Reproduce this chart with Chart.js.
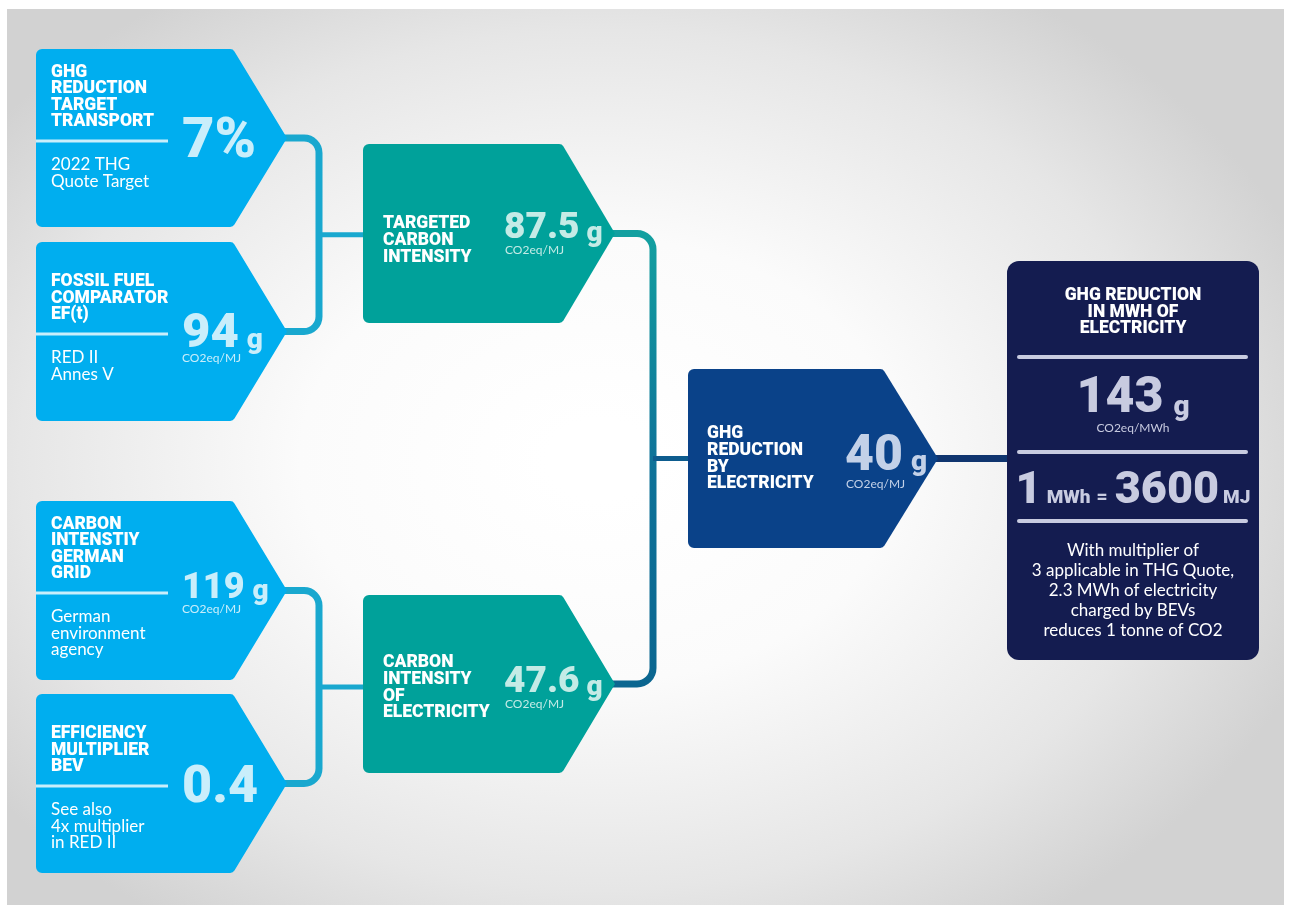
<!DOCTYPE html>
<html>
<head>
<meta charset="utf-8">
<title>GHG reduction by electricity</title>
<script src="https://cdn.jsdelivr.net/npm/chart.js@4.4.1/dist/chart.umd.min.js"></script>
<style>
  html, body { margin: 0; padding: 0; background: #fff; }
  #wrap { width: 1291px; height: 912px; }
</style>
</head>
<body>
<div id="wrap"><canvas id="flow" width="1291" height="912"></canvas></div>
<script>
var inputTitles = [
  ['GHG', 'REDUCTION', 'TARGET', 'TRANSPORT'],
  ['FOSSIL FUEL', 'COMPARATOR', 'EF(t)'],
  ['CARBON', 'INTENSTIY', 'GERMAN', 'GRID'],
  ['EFFICIENCY', 'MULTIPLIER', 'BEV']
];
var inputNotes = [
  ['2022 THG', 'Quote Target'],
  ['RED II', 'Annes V'],
  ['German', 'environment', 'agency'],
  ['See also', '4x multiplier', 'in RED II']
];
var inputValues = ['7%', '94', '119', '0.4'];
var inputUnits = ['', 'g', 'g', ''];
var inputSubUnits = ['', 'CO2eq/MJ', 'CO2eq/MJ', ''];

var midTitles = [
  ['TARGETED', 'CARBON', 'INTENSITY'],
  ['CARBON', 'INTENSITY', 'OF', 'ELECTRICITY']
];
var midValues = ['87.5', '47.6'];
var midUnits = ['g', 'g'];
var midSubUnits = ['CO2eq/MJ', 'CO2eq/MJ'];

var resultTitle = ['GHG', 'REDUCTION', 'BY', 'ELECTRICITY'];
var resultValue = '40';
var resultUnit = 'g';
var resultSubUnit = 'CO2eq/MJ';

var panelTitle = ['GHG REDUCTION', 'IN MWH OF', 'ELECTRICITY'];
var panelValue = '143';
var panelUnit = 'g';
var panelSubUnit = 'CO2eq/MWh';
var conversionParts = ['1', 'MWh', '=', '3600', 'MJ'];
var panelNote = [
  'With multiplier of',
  '3 applicable in THG Quote,',
  '2.3 MWh of electricity',
  'charged by BEVs',
  'reduces 1 tonne of CO2'
];

// layout (pixels in the 1291x912 frame)
var W = 1291, H = 912;
var inputBoxes = [
  { x: 36, y: 49, h: 178, valSize: 56, valDy: 16 },
  { x: 36, y: 242, h: 179, valSize: 49, valDy: 13 },
  { x: 36, y: 501, h: 179, valSize: 36, valDy: 5 },
  { x: 36, y: 694, h: 179, valSize: 52, valDy: 16 }
];
var midBoxes = [
  { x: 363, y: 144, h: 179, titleDy: 84, valDy: 94 },
  { x: 363, y: 595, h: 178, titleDy: 72, valDy: 97 }
];
var resultBox = { x: 688, y: 369, h: 179 };
var panelBox = { x: 1007, y: 261, w: 252, h: 399 };

var colors = {
  input: '#00aeef', inputVal: '#c9eefb',
  mid: '#00a19a', midVal: '#c4ebe6',
  result: '#0a4289', resultVal: '#c3d1e8',
  panel: '#141c50', panelVal: '#c8cbe0',
  linkLeft: '#19a8cf', linkOut: '#10356f'
};

var HEAVY = '900 ';
var HFAM = 'Roboto, "Lato", sans-serif';
var FAM = 'Lato, "Open Sans", sans-serif';

function flowPlugin() {
  return {
    id: 'flow',
    beforeDraw: function(chart) {
      var c = chart.ctx, sx = chart.scales.x, sy = chart.scales.y;
      c.save();
      c.fillStyle = '#ffffff';
      c.fillRect(0, 0, chart.width, chart.height);
      // soft grey vignette
      var x0 = sx.getPixelForValue(7), y0 = sy.getPixelForValue(9);
      var x1 = sx.getPixelForValue(1284), y1 = sy.getPixelForValue(905);
      c.beginPath();
      c.rect(x0, y0, x1 - x0, y1 - y0);
      c.clip();
      c.translate(sx.getPixelForValue(600), sy.getPixelForValue(460));
      c.scale(1.35, 1);
      var g = c.createRadialGradient(0, 0, 40, 0, 0, 560);
      g.addColorStop(0, '#ffffff');
      g.addColorStop(0.35, '#fbfbfb');
      g.addColorStop(0.75, '#e6e6e6');
      g.addColorStop(1, '#d2d2d2');
      c.fillStyle = g;
      c.fillRect(-700, -600, 1400, 1200);
      c.restore();
    },
    afterDraw: function(chart) {
      drawFlow(chart);
    }
  };
}

function drawFlow(chart) {
  var c = chart.ctx, sx = chart.scales.x, sy = chart.scales.y;
  var X = function(v) { return sx.getPixelForValue(v); };
  var Y = function(v) { return sy.getPixelForValue(v); };

  function font(size, weight) {
    return weight + size + 'px ' + (weight === HEAVY ? HFAM : FAM);
  }

  function text(str, x, y, size, weight, color, align) {
    c.font = font(size, weight);
    c.fillStyle = color;
    c.textAlign = align || 'left';
    c.textBaseline = 'alphabetic';
    c.fillText(str, X(x), Y(y));
    return c.measureText(str).width;
  }

  function arrow(b, w, tip, color) {
    var x = X(b.x), y = Y(b.y), r = 6;
    var right = X(b.x + w), end = X(b.x + w + tip);
    var bottom = Y(b.y + b.h), cy = Y(b.y + b.h / 2);
    c.beginPath();
    c.moveTo(x + r, y);
    c.arcTo(right, y, end, cy, 5);
    c.lineTo(end, cy);
    c.arcTo(right, bottom, x, bottom, 5);
    c.arcTo(x, bottom, x, y, r);
    c.arcTo(x, y, right, y, r);
    c.closePath();
    c.fillStyle = color;
    c.fill();
  }

  function bracket(xTip, yTop, yBot, xV, color, width, rad) {
    c.beginPath();
    c.moveTo(X(xTip), Y(yTop));
    c.arcTo(X(xV), Y(yTop), X(xV), Y(yBot), rad);
    c.arcTo(X(xV), Y(yBot), X(xTip), Y(yBot), rad);
    c.lineTo(X(xTip), Y(yBot));
    c.strokeStyle = color;
    c.lineWidth = width;
    c.stroke();
  }

  function hline(xa, xb, y, color, width) {
    c.beginPath();
    c.moveTo(X(xa), Y(y));
    c.lineTo(X(xb), Y(y));
    c.strokeStyle = color;
    c.lineWidth = width;
    c.stroke();
  }

  c.save();
  c.lineCap = 'butt';

  // connectors, under the boxes
  var ctr = function(b) { return b.y + b.h / 2; };
  var i;
  for (i = 0; i < 4; i += 2) {
    var a = ctr(inputBoxes[i]), bb = ctr(inputBoxes[i + 1]);
    bracket(280, a, bb, 319, colors.linkLeft, 7, 15);
    hline(319, 366, (a + bb) / 2, colors.linkLeft, 5);
  }
  var m1 = ctr(midBoxes[0]), m2 = ctr(midBoxes[1]);
  var grad = c.createLinearGradient(0, Y(m1), 0, Y(m2));
  grad.addColorStop(0, '#13a0a0');
  grad.addColorStop(0.5, '#0e7399');
  grad.addColorStop(1, '#0b6690');
  bracket(608, m1, m2, 653, grad, 7, 16);
  hline(653, 690, ctr(resultBox), '#0d5c8e', 5);
  hline(930, 1010, ctr(resultBox), colors.linkOut, 7);

  // input boxes
  inputBoxes.forEach(function(b, k) {
    arrow(b, 197, 54, colors.input);
    var sep = b.y + 92;
    c.fillStyle = colors.inputVal;
    c.fillRect(X(b.x), Y(sep - 1.5), X(b.x + 132) - X(b.x), Y(sep + 1.5) - Y(sep - 1.5));
    var t = inputTitles[k];
    t.forEach(function(line, j) {
      text(line, b.x + 15, sep - 15 - (t.length - 1 - j) * 16.3, 17.5, HEAVY, '#ffffff');
    });
    inputNotes[k].forEach(function(line, j) {
      text(line, b.x + 15, sep + 29 + j * 16.5, 17, '400 ', '#ffffff');
    });
    var vy = sep + b.valDy;
    var vw = text(inputValues[k], b.x + 146, vy, b.valSize, HEAVY, colors.inputVal);
    if (inputUnits[k]) {
      text(inputUnits[k], b.x + 146 + vw + 8, vy + 1, 28, HEAVY, colors.inputVal);
      text(inputSubUnits[k], b.x + 146, vy + 15, 12, '400 ', colors.inputVal);
    }
  });

  // intermediate boxes
  midBoxes.forEach(function(b, k) {
    arrow(b, 199, 53, colors.mid);
    midTitles[k].forEach(function(line, j) {
      text(line, b.x + 20, b.y + b.titleDy + j * 16.8, 17.5, HEAVY, '#ffffff');
    });
    var vy = b.y + b.valDy;
    var vw = text(midValues[k], b.x + 141, vy, 37, HEAVY, colors.midVal);
    text(midUnits[k], b.x + 141 + vw + 7, vy + 3, 28, HEAVY, colors.midVal);
    text(midSubUnits[k], b.x + 142, vy + 16, 12, '400 ', colors.midVal);
  });

  // result box
  arrow(resultBox, 195, 55, colors.result);
  resultTitle.forEach(function(line, j) {
    text(line, resultBox.x + 19, resultBox.y + 69 + j * 16.8, 17.5, HEAVY, '#ffffff');
  });
  var rvy = resultBox.y + 101;
  var rvw = text(resultValue, resultBox.x + 157, rvy, 50, HEAVY, colors.resultVal);
  text(resultUnit, resultBox.x + 157 + rvw + 8, rvy, 28, HEAVY, colors.resultVal);
  text(resultSubUnit, resultBox.x + 158, rvy + 18, 12, '400 ', colors.resultVal);

  // summary panel
  var p = panelBox, cx = p.x + p.w / 2;
  c.beginPath();
  c.roundRect(X(p.x), Y(p.y), X(p.x + p.w) - X(p.x), Y(p.y + p.h) - Y(p.y), 12);
  c.fillStyle = colors.panel;
  c.fill();
  panelTitle.forEach(function(line, j) {
    text(line, cx, 300 + j * 16.5, 17.5, HEAVY, '#ffffff', 'center');
  });
  [357, 452, 521].forEach(function(y) {
    c.beginPath();
    c.moveTo(X(1019), Y(y));
    c.lineTo(X(1246), Y(y));
    c.strokeStyle = colors.panelVal;
    c.lineWidth = 4;
    c.lineCap = 'round';
    c.stroke();
  });
  c.font = font(50, HEAVY);
  var pw = c.measureText(panelValue).width;
  c.font = font(28, HEAVY);
  var gw = c.measureText(panelUnit).width;
  var px0 = cx - (pw + 10 + gw) / 2;
  text(panelValue, px0, 412, 50, HEAVY, colors.panelVal);
  text(panelUnit, px0 + pw + 10, 415, 28, HEAVY, colors.panelVal);
  text(panelSubUnit, cx, 432, 12, '400 ', colors.panelVal, 'center');

  // 1 MWh = 3600 MJ
  var sizes = [45, 19, 19, 45, 19], gaps = [5, 6, 7, 4], widths = [], total = 0;
  conversionParts.forEach(function(s, j) {
    c.font = font(sizes[j], HEAVY);
    widths[j] = c.measureText(s).width;
    total += widths[j] + (j < gaps.length ? gaps[j] : 0);
  });
  var cxp = cx - total / 2;
  conversionParts.forEach(function(s, j) {
    text(s, cxp, 503, sizes[j], HEAVY, colors.panelVal);
    cxp += widths[j] + (j < gaps.length ? gaps[j] : 0);
  });

  panelNote.forEach(function(line, j) {
    text(line, cx, 556 + j * 20, 17, '400 ', '#ffffff', 'center');
  });

  c.restore();
}

new Chart(document.getElementById('flow'), {
  type: 'scatter',
  data: { datasets: [] },
  options: {
    responsive: false,
    animation: false,
    layout: { padding: 0 },
    plugins: { legend: { display: false }, tooltip: { enabled: false } },
    scales: {
      x: { type: 'linear', min: 0, max: W, display: false },
      y: { type: 'linear', min: 0, max: H, reverse: true, display: false }
    }
  },
  plugins: [flowPlugin()]
});
</script>
</body>
</html>
